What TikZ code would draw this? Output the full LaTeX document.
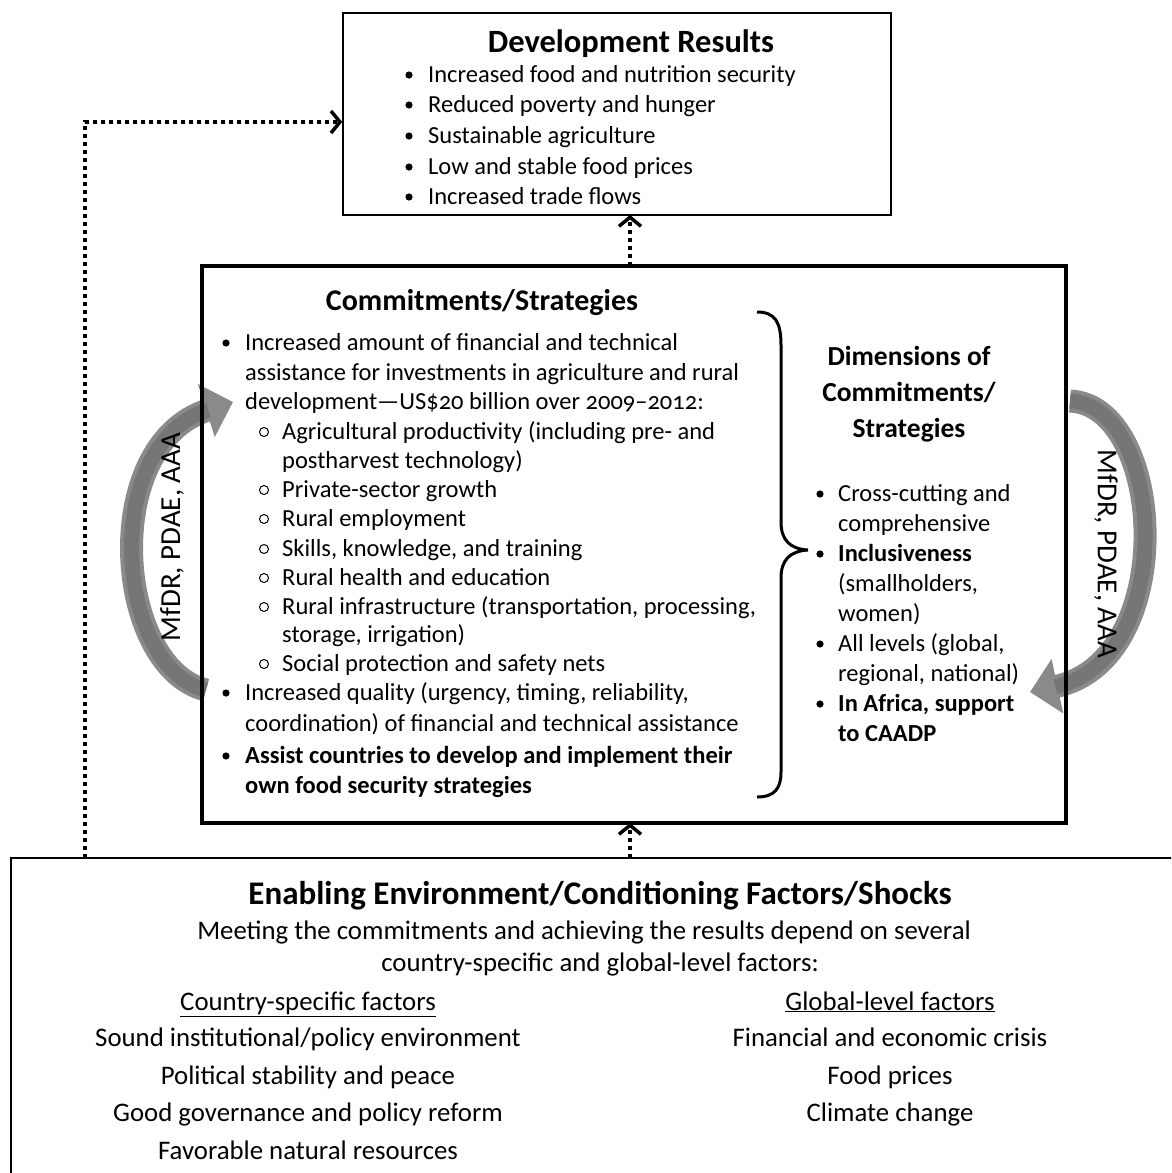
\documentclass[tikz,border=0pt]{standalone}
\usepackage{fontspec}
\setmainfont{Carlito}[Numbers=OldStyle]
\usetikzlibrary{arrows.meta}
\definecolor{bandgray}{HTML}{8A8A8A}
\definecolor{banddark}{HTML}{767676}
\tikzset{
  body/.style={font=\fontsize{24.5}{28}\selectfont, anchor=base west, inner sep=0pt},
  bbody/.style={font=\bfseries\fontsize{24.5}{28}\selectfont, anchor=base west, inner sep=0pt},
  envbody/.style={font=\fontsize{26.8}{30}\selectfont, anchor=base, inner sep=0pt},
  ttl/.style={font=\bfseries\fontsize{30}{34}\selectfont, anchor=base, inner sep=0pt},
  dimttl/.style={font=\bfseries\fontsize{27.5}{32}\selectfont, anchor=base, inner sep=0pt},
  thinbox/.style={draw, line width=1.5pt, inner sep=0pt},
  thickbox/.style={draw, line width=3.2pt, inner sep=0pt},
  dotarr/.style={line width=4pt, dash pattern=on 4pt off 4pt, -{Straight Barb[length=9pt,width=22pt,line width=3.5pt]}},
  bandarrow/.style={line width=23pt, bandgray, -{Triangle[length=28pt,width=54pt]}},
  bandcore/.style={line width=15pt, banddark, shorten >=26pt},
  lbl/.style={font=\fontsize{29}{32}\selectfont, inner sep=0pt},
  bul/.style={fill=black},
  subbul/.style={draw=black, line width=1pt},
}
\begin{document}
\begin{tikzpicture}[x=1pt,y=-1pt]
\useasboundingbox (0,0) rectangle (1171,1173);
\clip (0,0) rectangle (1171,1173);

% gray curved arrows (behind boxes)
\draw[bandarrow] (206,690) .. controls (115,668) and (98,445) .. (233,402);
\draw[bandcore] (206,690) .. controls (115,668) and (98,445) .. (233,402);
\draw[bandarrow] (1070,401) .. controls (1165,405) and (1180,660) .. (1030,692);
\draw[bandcore] (1070,401) .. controls (1165,405) and (1180,660) .. (1030,692);
\node[lbl, rotate=90] (lblL) at (172,537) {MfDR, PDAE, AAA};
\node[lbl, rotate=-90] (lblR) at (1106,554) {MfDR, PDAE, AAA};

% boxes
\node[thinbox, minimum width=548pt, minimum height=202pt] (devbox) at (617,114) {};
\node[thickbox, minimum width=864pt, minimum height=557pt] (combox) at (634,544.5) {};
\node[thinbox, minimum width=1180pt, minimum height=360pt] (envbox) at (601,1038) {};

% connectors
\coordinate (envtop) at (630,858);
\coordinate (comtop) at (630,266);
\coordinate (combot) at (630,823);
\coordinate (devbot) at (630,215);
\coordinate (leftstart) at (85,858);
\draw[dotarr] (comtop) -- (devbot);
\draw[dotarr] (envtop) -- (combot);
\draw[dotarr] (leftstart) |- ([yshift=-8pt]devbox.west);

% Development Results
\node[ttl, font=\bfseries\fontsize{32.5}{36}\selectfont] (devttl) at (631,52) {Development Results};
\foreach \yy/\tx [count=\i] in {82/Increased food and nutrition security,112/Reduced poverty and hunger,143/Sustainable agriculture,174/Low and stable food prices,204/Increased trade flows}{
  \fill[bul] (409,\yy-7) circle (3.6pt);
  \node[body] (dr\i) at (428,\yy) {\tx};
}

% Commitments/Strategies
\node[ttl] (comttl) at (482,310) {Commitments/Strategies};
\node[body] (c1) at (245,350) {Increased amount of financial and technical};
\node[body] (c2) at (245,380) {assistance for investments in agriculture and rural};
\node[body] (c3) at (245,409) {development---US\$20 billion over 2009--2012:};
\node[body] (c4) at (282,439) {Agricultural productivity (including pre- and};
\node[body] (c5) at (282,468) {postharvest technology)};
\node[body] (c6) at (282,497) {Private-sector growth};
\node[body] (c7) at (282,526) {Rural employment};
\node[body] (c8) at (282,556) {Skills, knowledge, and training};
\node[body] (c9) at (282,585) {Rural health and education};
\node[body] (c10) at (282,614) {Rural infrastructure (transportation, processing,};
\node[body] (c11) at (282,642) {storage, irrigation)};
\node[body] (c12) at (282,671) {Social protection and safety nets};
\node[body] (c13) at (245,700) {Increased quality (urgency, timing, reliability,};
\node[body] (c14) at (245,731) {coordination) of financial and technical assistance};
\node[bbody] (c15) at (245,763) {Assist countries to develop and implement their};
\node[bbody] (c16) at (245,793) {own food security strategies};
\foreach \yy in {350,700,763}{\fill[bul] (226,\yy-7) circle (3.6pt);}
\foreach \yy in {439,497,526,556,585,614,671}{\draw[subbul] (264,\yy-7) circle (4.5pt);}

% brace
\draw[line width=3pt] (757,312) .. controls (775,312) and (781,322) .. (781,345) -- (781,522)
  .. controls (781,540) and (790,549) .. (808,550)
  .. controls (790,551) and (781,560) .. (781,578) -- (781,772)
  .. controls (781,788) and (775,797) .. (757,797);

% Dimensions
\node[dimttl] (dimt1) at (909,365) {Dimensions of};
\node[dimttl] (dimt2) at (909,401) {Commitments/};
\node[dimttl] (dimt3) at (909,437) {Strategies};
\node[body] (d1) at (838,501) {Cross-cutting and};
\node[body] (d2) at (838,531) {comprehensive};
\node[bbody] (d3) at (838,561) {Inclusiveness};
\node[body] (d4) at (838,591) {(smallholders,};
\node[body] (d5) at (838,621) {women)};
\node[body] (d6) at (838,651) {All levels (global,};
\node[body] (d7) at (838,681) {regional, national)};
\node[bbody] (d8) at (838,711) {In Africa, support};
\node[bbody] (d9) at (838,741) {to CAADP};
\foreach \yy in {501,561,651,711}{\fill[bul] (820,\yy-7) circle (3.6pt);}

% Enabling environment
\node[ttl, font=\bfseries\fontsize{33}{36}\selectfont] (envttl) at (600,904) {Enabling Environment/Conditioning Factors/Shocks};
\node[envbody] (e1) at (584,939) {Meeting the commitments and achieving the results depend on several};
\node[envbody] (e2) at (600,971) {country-specific and global-level factors:};
\node[envbody] (cs0) at (308,1010) {\underline{Country-specific factors}};
\node[envbody] (cs1) at (308,1046) {Sound institutional/policy environment};
\node[envbody] (cs2) at (308,1084) {Political stability and peace};
\node[envbody] (cs3) at (308,1121) {Good governance and policy reform};
\node[envbody] (cs4) at (308,1159) {Favorable natural resources};
\node[envbody] (gl0) at (890,1010) {\underline{Global-level factors}};
\node[envbody] (gl1) at (890,1046) {Financial and economic crisis};
\node[envbody] (gl2) at (890,1084) {Food prices};
\node[envbody] (gl3) at (890,1121) {Climate change};
\end{tikzpicture}
\end{document}
